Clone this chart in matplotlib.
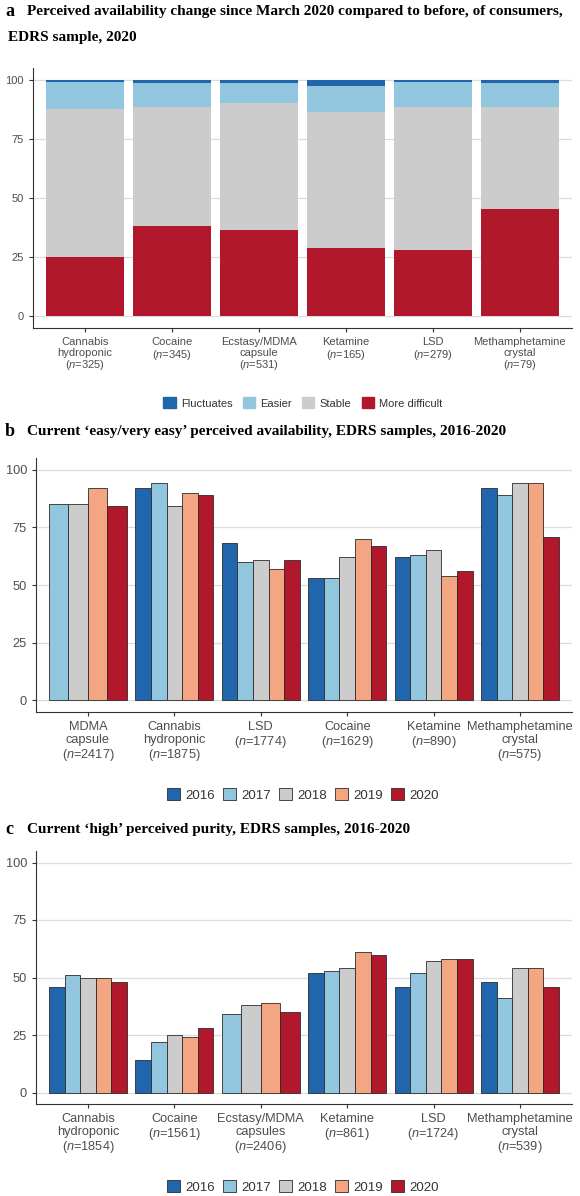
import numpy as np
import matplotlib.pyplot as plt
from matplotlib.patches import Patch

plt.rcParams['font.family'] = ['Liberation Sans', 'DejaVu Sans']
plt.rcParams['mathtext.fontset'] = 'custom'
plt.rcParams['mathtext.it'] = 'Liberation Sans:italic'
plt.rcParams['mathtext.rm'] = 'Liberation Sans'

W, H = 580, 1196

# Panel a: availability change since March 2020 (%)
drugs_a = ['Cannabis\nhydroponic\n($\\mathit{n}$=325)', 'Cocaine\n($\\mathit{n}$=345)',
           'Ecstasy/MDMA\ncapsule\n($\\mathit{n}$=531)', 'Ketamine\n($\\mathit{n}$=165)',
           'LSD\n($\\mathit{n}$=279)', 'Methamphetamine\ncrystal\n($\\mathit{n}$=79)']
change_levels = ['Fluctuates', 'Easier', 'Stable', 'More difficult']
more_difficult = [25, 38, 36.5, 29, 28, 45.5]
stable = [62.5, 50.5, 53.5, 57.5, 60.5, 43]
easier = [11.5, 10, 8.5, 11, 10.5, 10]
fluctuates = [1, 1.5, 1.5, 2.5, 1, 1.5]

# Panel b: 'easy/very easy' availability (%)
years = ['2016', '2017', '2018', '2019', '2020']
drugs_b = ['MDMA\ncapsule\n($\\mathit{n}$=2417)', 'Cannabis\nhydroponic\n($\\mathit{n}$=1875)',
           'LSD\n($\\mathit{n}$=1774)', 'Cocaine\n($\\mathit{n}$=1629)',
           'Ketamine\n($\\mathit{n}$=890)', 'Methamphetamine\ncrystal\n($\\mathit{n}$=575)']
easy_2016 = [np.nan, 92, 68, 53, 62, 92]
easy_2017 = [85, 94, 60, 53, 63, 89]
easy_2018 = [85, 84, 61, 62, 65, 94]
easy_2019 = [92, 90, 57, 70, 54, 94]
easy_2020 = [84, 89, 61, 67, 56, 71]

# Panel c: 'high' purity (%)
drugs_c = ['Cannabis\nhydroponic\n($\\mathit{n}$=1854)', 'Cocaine\n($\\mathit{n}$=1561)',
           'Ecstasy/MDMA\ncapsules\n($\\mathit{n}$=2406)', 'Ketamine\n($\\mathit{n}$=861)',
           'LSD\n($\\mathit{n}$=1724)', 'Methamphetamine\ncrystal\n($\\mathit{n}$=539)']
high_2016 = [46, 14, np.nan, 52, 46, 48]
high_2017 = [51, 22, 34, 53, 52, 41]
high_2018 = [50, 25, 38, 54, 57, 54]
high_2019 = [50, 24, 39, 61, 58, 54]
high_2020 = [48, 28, 35, 60, 58, 46]

colors = ['#2166AC', '#92C5DE', '#CCCCCC', '#F4A582', '#B2182B']
edge = '#2B2B2B'


def rect(left, top, right, bottom):
    return [left / W, 1 - bottom / H, (right - left) / W, (bottom - top) / H]


def style(ax, labels, size):
    ax.set_xlim(0.4, 6.6)
    ax.set_ylim(-5, 105)
    ax.set_yticks([0, 25, 50, 75, 100])
    ax.set_xticks(range(1, 7))
    ax.set_xticklabels(labels, linespacing=1.08)
    ax.yaxis.grid(True, color='#DCDCDC', linewidth=0.9)
    ax.set_axisbelow(True)
    for s in ['top', 'right']:
        ax.spines[s].set_visible(False)
    for s in ['left', 'bottom']:
        ax.spines[s].set_color('#333333')
        ax.spines[s].set_linewidth(0.8)
    ax.tick_params(colors='#333333', labelcolor='#4D4D4D', labelsize=size, length=3, width=0.8)


def dodge(ax, series):
    vals = np.array(series, dtype=float)
    for i in range(vals.shape[1]):
        present = [j for j in range(vals.shape[0]) if not np.isnan(vals[j, i])]
        w = 0.9 / len(present)
        for m, j in enumerate(present):
            ax.bar(i + 1 - 0.45 + w * (m + 0.5), vals[j, i], width=w, color=colors[j],
                   edgecolor=edge, linewidth=0.6)


def title(y, letter, text):
    fig.text(5 / W, 1 - y / H, letter, fontsize=13, fontweight='bold',
             family='Liberation Serif', va='center')
    fig.text(27 / W, 1 - y / H, text, fontsize=11, fontweight='bold',
             family='Liberation Serif', va='center')


fig = plt.figure(figsize=(W / 100, H / 100), dpi=100)

# panel a
ax = fig.add_axes(rect(33, 68, 572, 328))
x = np.arange(1, 7)
bottom = np.zeros(6)
stack = [(more_difficult, colors[4]), (stable, colors[2]), (easier, colors[1]), (fluctuates, colors[0])]
for vals, c in stack:
    ax.bar(x, vals, bottom=bottom, width=0.9, color=c)
    bottom = bottom + np.array(vals)
style(ax, drugs_a, 8)
title(12, 'a', 'Perceived availability change since March 2020 compared to before, of consumers,')
fig.text(8 / W, 1 - 37 / H, 'EDRS sample, 2020', fontsize=11, fontweight='bold',
         family='Liberation Serif', va='center')
fig.legend([Patch(color=c) for c in [colors[0], colors[1], colors[2], colors[4]]], change_levels,
           loc='center', bbox_to_anchor=(303 / W, 1 - 403 / H), ncol=4, frameon=False,
           fontsize=8, handlelength=1.1, handleheight=1.1, handletextpad=0.5,
           columnspacing=0.9, labelcolor='#333333')

# panel b
ax = fig.add_axes(rect(36, 458, 572, 712))
dodge(ax, [easy_2016, easy_2017, easy_2018, easy_2019, easy_2020])
style(ax, drugs_b, 9.2)
title(432, 'b', 'Current \u2018easy/very easy\u2019 perceived availability, EDRS samples, 2016-2020')
year_handles = [Patch(facecolor=c, edgecolor=edge, linewidth=0.6) for c in colors]
fig.legend(year_handles, years, loc='center', bbox_to_anchor=(303 / W, 1 - 795 / H), ncol=5,
           frameon=False, fontsize=9.5, handlelength=1.0, handleheight=1.0, handletextpad=0.4,
           columnspacing=0.6, labelcolor='#333333')

# panel c
ax = fig.add_axes(rect(36, 851, 572, 1104))
dodge(ax, [high_2016, high_2017, high_2018, high_2019, high_2020])
style(ax, drugs_c, 9.2)
title(829, 'c', 'Current \u2018high\u2019 perceived purity, EDRS samples, 2016-2020')
fig.legend(year_handles, years, loc='center', bbox_to_anchor=(303 / W, 1 - 1187 / H), ncol=5,
           frameon=False, fontsize=9.5, handlelength=1.0, handleheight=1.0, handletextpad=0.4,
           columnspacing=0.6, labelcolor='#333333')

plt.savefig('out.png', dpi=100)
